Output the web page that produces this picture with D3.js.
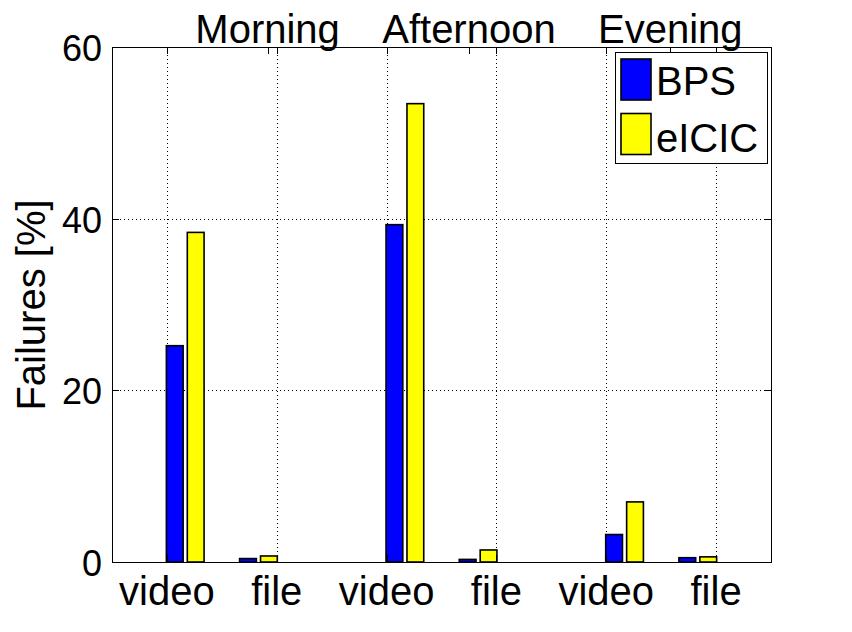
<!DOCTYPE html>
<html>
<head>
<meta charset="utf-8">
<script src="https://cdn.jsdelivr.net/npm/d3@7"></script>
<style>
  body { margin: 0; background: #fff; }
  text { font-family: "Liberation Sans", Arial, sans-serif; fill: #000; }
</style>
</head>
<body>
<svg width="852" height="632"></svg>
<script>
// bar groups sit at x = 1..8, groups 3 and 6 are empty spacers
var groups = [1, 2, 3, 4, 5, 6, 7, 8];
var bps   = [25.2, 0.4, 0, 39.3, 0.3, 0, 3.2, 0.5];
var eicic = [38.4, 0.7, 0, 53.4, 1.4, 0, 7.0, 0.6];
var seriesNames = ["BPS", "eICIC"];
var seriesColors = ["#0000ff", "#ffff00"];

var xTickPos = [0.75, 2.25, 3.75, 5.25, 6.75, 8.25];
var xTickLabels = ["video", "file", "video", "file", "video", "file"];
var topTickPos = [2.125, 4.875, 7.625];
var topTickLabels = ["Morning", "Afternoon", "Evening"];
var yTicks = [0, 20, 40, 60];

var svg = d3.select("svg");
// note: "top" is taken by window.top, so use p* names
var pLeft = 112, pRight = 771, pTop = 47, pBottom = 562;

var x = d3.scaleLinear().domain([0, 9]).range([pLeft, pRight]);
var y = d3.scaleLinear().domain([0, 60]).range([pBottom, pTop]);

// grid
var grid = svg.append("g")
    .attr("stroke", "#000")
    .attr("stroke-width", 1)
    .attr("stroke-dasharray", "1,3");
grid.selectAll(".gx").data(xTickPos).enter().append("line")
    .attr("x1", d => Math.round(x(d)) + 0.5).attr("x2", d => Math.round(x(d)) + 0.5)
    .attr("y1", pTop).attr("y2", pBottom);
grid.selectAll(".gy").data(yTicks.slice(1, -1)).enter().append("line")
    .attr("y1", d => Math.round(y(d)) + 0.5).attr("y2", d => Math.round(y(d)) + 0.5)
    .attr("x1", pLeft).attr("x2", pRight);

// bars, MATLAB grouped style
var off = 0.143, bw = 0.229;
var series = [bps, eicic];
series.forEach(function(vals, s) {
    svg.append("g").selectAll("rect")
        .data(vals)
        .enter()
        .append("rect")
        .attr("x", (d, i) => x(groups[i] + (s === 0 ? -off : off) - bw / 2))
        .attr("width", x(bw) - x(0))
        .attr("y", d => y(d))
        .attr("height", d => y(0) - y(d))
        .attr("fill", seriesColors[s])
        .attr("stroke", "#000")
        .attr("stroke-width", 1.6);
});

// axes box
svg.append("rect")
    .attr("x", pLeft + 0.5).attr("y", pTop + 0.5)
    .attr("width", pRight - pLeft).attr("height", pBottom - pTop)
    .attr("fill", "none").attr("stroke", "#000").attr("stroke-width", 1);

// tick marks (inward)
var tl = 7;
var ticks = svg.append("g").attr("stroke", "#000").attr("stroke-width", 1);
xTickPos.forEach(function(d) {
    var px = Math.round(x(d)) + 0.5;
    ticks.append("line").attr("x1", px).attr("x2", px).attr("y1", pBottom).attr("y2", pBottom - tl);
    ticks.append("line").attr("x1", px).attr("x2", px).attr("y1", pTop).attr("y2", pTop + tl);
});
topTickPos.forEach(function(d) {
    var px = Math.round(x(d)) + 0.5;
    ticks.append("line").attr("x1", px).attr("x2", px).attr("y1", pTop).attr("y2", pTop + tl);
});
yTicks.forEach(function(d) {
    var py = Math.round(y(d)) + 0.5;
    ticks.append("line").attr("x1", pLeft).attr("x2", pLeft + tl).attr("y1", py).attr("y2", py);
    ticks.append("line").attr("x1", pRight).attr("x2", pRight - tl).attr("y1", py).attr("y2", py);
});

// labels
svg.append("g").selectAll("text")
    .data(yTicks)
    .enter().append("text")
    .attr("x", 102)
    .attr("y", d => y(d) + 14)
    .attr("text-anchor", "end")
    .style("font-size", "36px")
    .text(d => d);

svg.append("g").selectAll("text")
    .data(xTickLabels)
    .enter().append("text")
    .attr("x", (d, i) => x(xTickPos[i]))
    .attr("y", 605)
    .attr("text-anchor", "middle")
    .style("font-size", "40px")
    .text(d => d);

svg.append("g").selectAll("text")
    .data(topTickLabels)
    .enter().append("text")
    .attr("x", (d, i) => x(topTickPos[i]))
    .attr("y", 43)
    .attr("text-anchor", "middle")
    .style("font-size", "40px")
    .text(d => d);

svg.append("text")
    .attr("transform", "translate(45,305) rotate(-90)")
    .attr("text-anchor", "middle")
    .style("font-size", "40px")
    .text("Failures [%]");

// legend
var lg = svg.append("g");
lg.append("rect")
    .attr("x", 615.5).attr("y", 52.5).attr("width", 152).attr("height", 111)
    .attr("fill", "#fff").attr("stroke", "#000").attr("stroke-width", 1);
seriesNames.forEach(function(name, i) {
    lg.append("rect")
        .attr("x", 621).attr("y", 59 + i * 54.5)
        .attr("width", 30).attr("height", 41)
        .attr("fill", seriesColors[i]).attr("stroke", "#000").attr("stroke-width", 1.6);
    lg.append("text")
        .attr("x", 656).attr("y", 95 + i * 56.5)
        .style("font-size", "40px")
        .text(name);
});
</script>
</body>
</html>
